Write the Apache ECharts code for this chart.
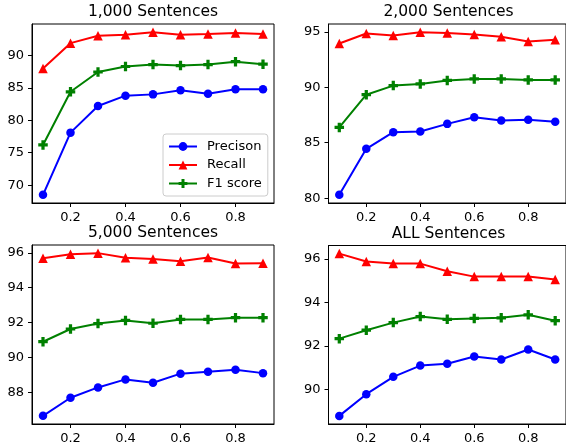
<!DOCTYPE html>
<html><head><meta charset="utf-8">
<script src="https://cdn.jsdelivr.net/npm/echarts@6/dist/echarts.min.js"></script>
<style>html,body{margin:0;padding:0;background:#fff}#c{width:566px;height:447px}</style>
</head><body><div id="c"></div>
<script>
const thresholds = [0.1, 0.2, 0.3, 0.4, 0.5, 0.6, 0.7, 0.8, 0.9];
const panelTitles = ['1,000 Sentences', '2,000 Sentences', '5,000 Sentences', 'ALL Sentences'];
const seriesNames = ['Precison', 'Recall', 'F1 score'];

const precision1000 = [68.5, 78.1, 82.2, 83.8, 84.0, 84.65, 84.1, 84.8, 84.8];
const recall1000    = [88.0, 91.9, 93.05, 93.2, 93.6, 93.2, 93.3, 93.45, 93.3];
const f1_1000       = [76.2, 84.4, 87.45, 88.3, 88.6, 88.45, 88.6, 89.05, 88.65];

const precision2000 = [80.3, 84.45, 85.95, 86.02, 86.7, 87.3, 87.0, 87.08, 86.9];
const recall2000    = [93.95, 94.85, 94.67, 94.97, 94.9, 94.76, 94.55, 94.13, 94.28];
const f1_2000       = [86.38, 89.33, 90.15, 90.3, 90.62, 90.75, 90.75, 90.66, 90.66];

const precision5000 = [86.65, 87.69, 88.28, 88.74, 88.55, 89.07, 89.18, 89.3, 89.1];
const recall5000    = [95.69, 95.92, 95.98, 95.71, 95.64, 95.52, 95.73, 95.38, 95.4];
const f1_5000       = [90.9, 91.63, 91.94, 92.12, 91.96, 92.18, 92.18, 92.28, 92.28];

const precisionAll = [88.77, 89.77, 90.57, 91.09, 91.17, 91.51, 91.37, 91.83, 91.37];
const recallAll    = [96.25, 95.89, 95.79, 95.79, 95.44, 95.19, 95.19, 95.19, 95.06];
const f1All        = [92.33, 92.72, 93.07, 93.35, 93.22, 93.26, 93.29, 93.43, 93.16];

const xTicks = [0.2, 0.4, 0.6, 0.8];
const yTicks1000 = [70, 75, 80, 85, 90];
const yTicks2000 = [80, 85, 90, 95];
const yTicks5000 = [88, 90, 92, 94, 96];
const yTicksAll  = [90, 92, 94, 96];

const panels = [
  [precision1000, recall1000, f1_1000],
  [precision2000, recall2000, f1_2000],
  [precision5000, recall5000, f1_5000],
  [precisionAll, recallAll, f1All]
];
const yTicks = [yTicks1000, yTicks2000, yTicks5000, yTicksAll];

// layout
const grids = [
  {left: 32, top: 24, width: 242, height: 179},
  {left: 328.5, top: 24, width: 240, height: 179},
  {left: 32, top: 245, width: 242, height: 179},
  {left: 328.5, top: 245.5, width: 240, height: 178.5}
];
const colors = ['#0000ff', '#ff0000', '#008000'];
const plusPath = 'path://M0.33,0H0.67V0.33H1V0.67H0.67V1H0.33V0.67H0V0.33H0.33Z';
const symbols = ['circle', 'triangle', plusPath];
const symbolSizes = [8.5, 9.5, 9.5];
const FONT = 'DejaVu Sans';

const option = {
  animation: false,
  backgroundColor: '#fff',
  textStyle: {fontFamily: FONT},
  title: grids.map((g, i) => ({
    text: panelTitles[i],
    left: g.left + g.width / 2,
    top: g.top - 20,
    textAlign: 'center',
    padding: 0,
    textStyle: {fontFamily: FONT, fontSize: 15.5, fontWeight: 'normal', color: '#000'}
  })),
  legend: {
    data: seriesNames,
    orient: 'vertical',
    left: 163,
    top: 134,
    padding: [6, 6, 6, 5],
    itemGap: 5.5,
    itemWidth: 28,
    itemHeight: 11,
    borderColor: '#cccccc',
    borderWidth: 1,
    borderRadius: 3,
    backgroundColor: 'rgba(255,255,255,0.8)',
    textStyle: {fontFamily: FONT, fontSize: 13, color: '#000', padding: [0, 0, 0, 5]}
  },
  grid: grids.map(g => Object.assign({show: true, borderColor: '#000', borderWidth: 1, backgroundColor: 'transparent', containLabel: false}, g)),
  xAxis: grids.map((g, i) => ({
    type: 'value', gridIndex: i, min: 0.06, max: 0.94,
    splitLine: {show: false},
    axisLine: {show: true, onZero: false, lineStyle: {color: '#000', width: 1}},
    axisTick: {show: true, inside: false, length: 4, customValues: xTicks, lineStyle: {color: '#000'}},
    axisLabel: {customValues: xTicks, margin: 8, fontFamily: FONT, fontSize: 13, color: '#000', formatter: v => v.toFixed(1)}
  })),
  yAxis: grids.map((g, i) => ({
    type: 'value', gridIndex: i,
    min: v => v.min - 0.05 * (v.max - v.min),
    max: v => v.max + 0.05 * (v.max - v.min),
    splitLine: {show: false},
    axisLine: {show: true, onZero: false, lineStyle: {color: '#000', width: 1}},
    axisTick: {show: true, inside: false, length: 4, customValues: yTicks[i], lineStyle: {color: '#000'}},
    axisLabel: {customValues: yTicks[i], margin: 8, fontFamily: FONT, fontSize: 13, color: '#000', formatter: v => String(v)}
  })),
  series: []
};

panels.forEach((p, i) => {
  p.forEach((vals, k) => {
    option.series.push({
      type: 'line',
      name: seriesNames[k],
      xAxisIndex: i, yAxisIndex: i,
      data: thresholds.map((x, j) => [x, vals[j]]),
      symbol: symbols[k],
      symbolSize: symbolSizes[k],
      showAllSymbol: true,
      color: colors[k],
      lineStyle: {color: colors[k], width: 2},
      itemStyle: {color: colors[k], borderWidth: 0},
      emphasis: {disabled: true}
    });
  });
});

const chart = echarts.init(document.getElementById('c'), null, {renderer: 'canvas'});
chart.setOption(option);
</script>
</body></html>
